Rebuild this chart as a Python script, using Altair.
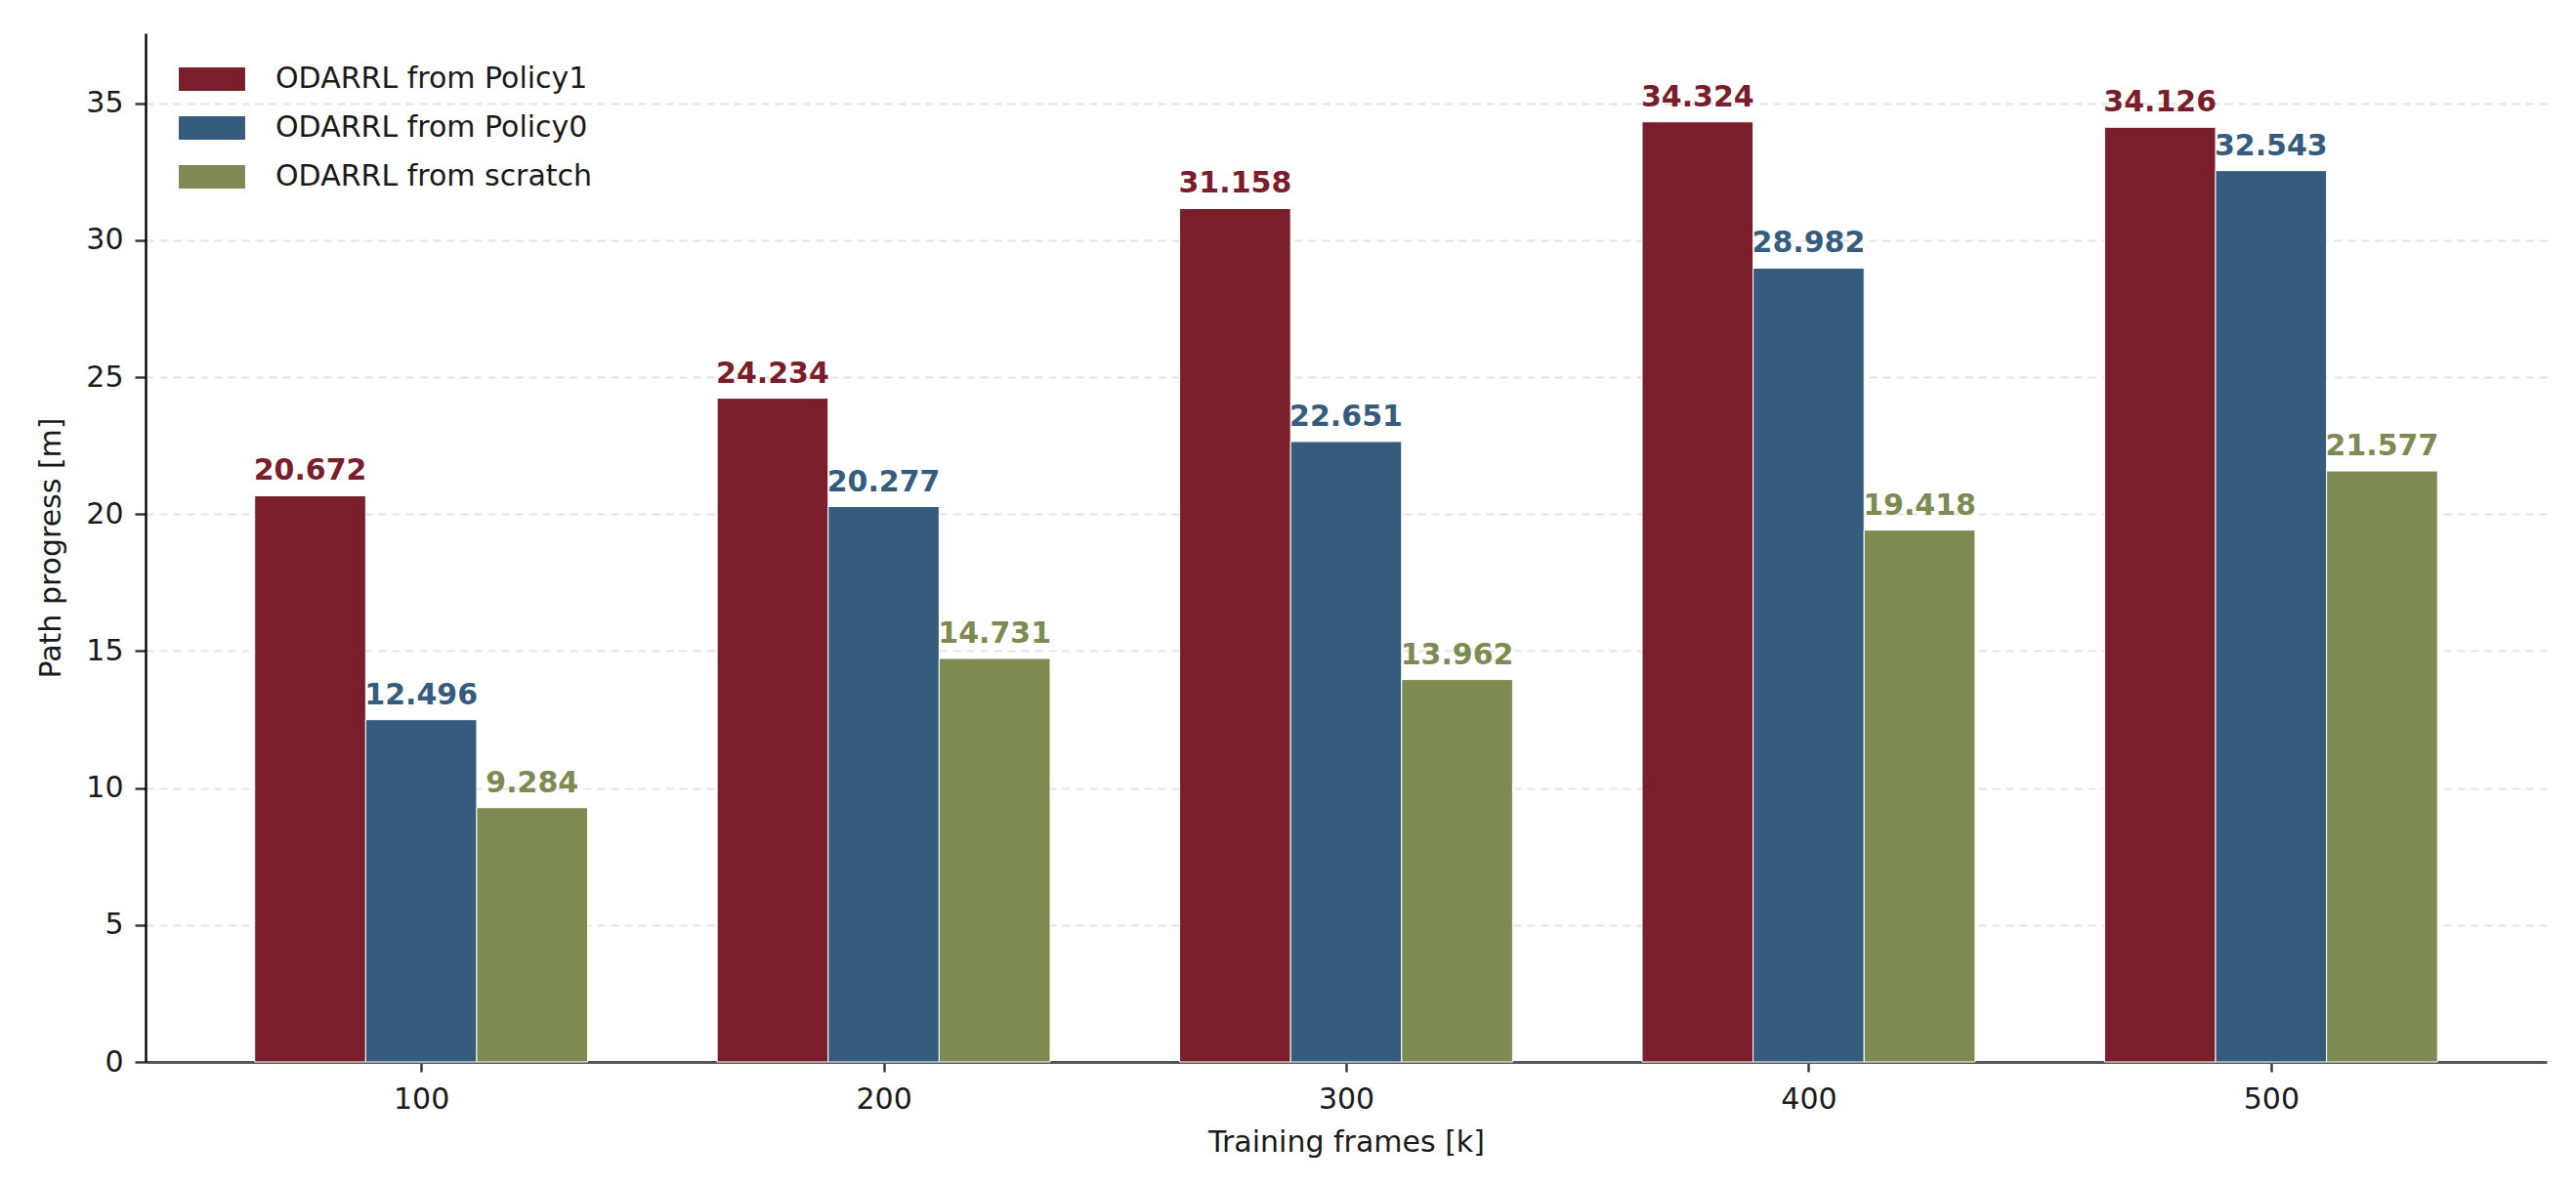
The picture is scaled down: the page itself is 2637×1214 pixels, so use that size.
import altair as alt
import pandas as pd

# ---- data ----
frames = ["100", "200", "300", "400", "500"]
series = ["ODARRL from Policy1", "ODARRL from Policy0", "ODARRL from scratch"]
policy1 = [20.672, 24.234, 31.158, 34.324, 34.126]
policy0 = [12.496, 20.277, 22.651, 28.982, 32.543]
scratch = [9.284, 14.731, 13.962, 19.418, 21.577]
colors = ["#7B1E2C", "#355C7D", "#7D8B52"]

rows = []
for si, (name, vals) in enumerate(zip(series, [policy1, policy0, scratch])):
    for gi, v in enumerate(vals):
        rows.append({"gi": gi, "si": si, "series": name, "value": v, "label": f"{v:.3f}"})
df = pd.DataFrame(rows)

BW = 0.24
FONT = "DejaVu Sans"
label_expr = "[" + ",".join(f"'{f}'" for f in frames) + "][datum.value]"

color = alt.Color(
    "series:N",
    scale=alt.Scale(domain=series, range=colors),
    sort=series,
    legend=alt.Legend(
        title=None,
        orient="none",
        legendX=53,
        legendY=32,
        symbolType="M-2.83,-1 L2.83,-1 L2.83,1 L-2.83,1 Z",
        symbolSize=576,
        symbolStrokeWidth=0,
        symbolOpacity=1,
        labelFontSize=30,
        labelFont=FONT,
        labelColor="#1a1a1a",
        labelOffset=50,
        labelLimit=600,
        rowPadding=20,
        padding=0,
    ),
)

x_scale = alt.Scale(domain=[-0.596, 4.596], nice=False, zero=False)
y_scale = alt.Scale(domain=[0, 37.56], nice=False)

base = alt.Chart(df).transform_calculate(
    xc=f"datum.gi + (datum.si - 1) * {BW}",
    x0=f"datum.gi + (datum.si - 1) * {BW} - {BW / 2}",
    x1=f"datum.gi + (datum.si - 1) * {BW} + {BW / 2}",
)

bars = base.mark_bar(stroke="white", strokeWidth=1).encode(
    x=alt.X(
        "x0:Q",
        scale=x_scale,
        title="Training frames [k]",
        axis=alt.Axis(
            values=[0, 1, 2, 3, 4],
            labelExpr=label_expr,
            grid=False,
            tickSize=10,
            tickWidth=2.4,
            tickColor="#333333",
            domainColor="#555555",
            domainWidth=3,
            labelPadding=13,
            labelFontSize=30,
            labelFont=FONT,
            labelColor="#1a1a1a",
            titleFontSize=30,
            titleFont=FONT,
            titleFontWeight="normal",
            titleColor="#1a1a1a",
            titlePadding=14,
        ),
    ),
    x2="x1:Q",
    y=alt.Y(
        "value:Q",
        scale=y_scale,
        title="Path progress [m]",
        axis=alt.Axis(
            values=[0, 5, 10, 15, 20, 25, 30, 35],
            grid=True,
            gridDash=[8, 6],
            gridColor="#e3e3e3",
            gridWidth=2,
            tickSize=11,
            tickWidth=2.4,
            tickColor="#333333",
            domainColor="#000000",
            domainWidth=2.4,
            labelPadding=12,
            labelFontSize=30,
            labelFont=FONT,
            labelColor="#1a1a1a",
            titleFontSize=30,
            titleFont=FONT,
            titleFontWeight="normal",
            titleColor="#1a1a1a",
            titlePadding=20,
        ),
    ),
    y2=alt.datum(0),
    color=color,
)

labels = base.mark_text(
    font=FONT, fontSize=30, fontWeight="bold", baseline="alphabetic", align="center", dy=-16
).encode(
    x=alt.X("xc:Q", scale=x_scale),
    y=alt.Y("value:Q", scale=y_scale),
    text="label:N",
    color=alt.Color("series:N", scale=alt.Scale(domain=series, range=colors), legend=None),
)

chart = (
    alt.layer(bars, labels)
    .properties(
        width=2458,
        height=1053,
        autosize=alt.AutoSizeParams(type="none"),
        padding={"left": 141, "top": 26, "right": 22, "bottom": 119},
        background="white",
    )
    .configure_view(stroke=None)
)

chart.save("out.html", embed_options={"renderer": "svg", "actions": False})
